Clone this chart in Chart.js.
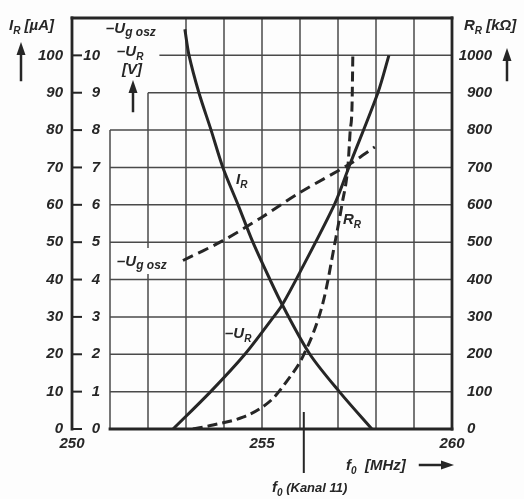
<!DOCTYPE html>
<html><head><meta charset="utf-8">
<script src="https://cdn.jsdelivr.net/npm/chart.js@4/dist/chart.umd.min.js"></script>
<style>html,body{margin:0;padding:0;background:#fdfdfd;}#wrap{width:524px;height:499px;}</style>
</head><body><div id="wrap"><canvas id="c" width="524" height="499"></canvas></div>
<script>
// ---- tick labels ----
const freqTicks = [250, 255, 260];
const currentTicks = [0, 10, 20, 30, 40, 50, 60, 70, 80, 90, 100];
const voltTicks = [0, 1, 2, 3, 4, 5, 6, 7, 8, 9, 10];
const resistTicks = [0, 100, 200, 300, 400, 500, 600, 700, 800, 900, 1000];

// ---- series (f0 in MHz) ----
const irFreq = [252.97, 253.08, 253.34, 253.66, 253.97, 254.37, 254.76, 255.21, 255.53, 256.26, 257.05, 257.89];
const irCurrent = [107, 100, 90, 80, 70, 60, 50, 40, 33.3, 20, 9.8, 0];          // I_R  [µA]

const urFreq = [252.66, 253.63, 254.55, 255.29, 255.53, 256.0, 256.92, 257.32, 258.05, 258.34];
const urVolt = [0, 0.98, 2.0, 2.98, 3.32, 4.2, 6.04, 7.1, 9.0, 10.0];     // -U_R [V]

const ugFreq = [252.92, 253.97, 255.0, 256.0, 257.32, 257.97];
const ugVolt = [4.51, 5.04, 5.67, 6.33, 7.1, 7.55];                  // -U_g osz [V]

const rrFreq = [253.18, 253.71, 254.5, 254.95, 255.29, 255.66, 256.08, 256.61, 256.92, 257.11, 257.26, 257.32, 257.37, 257.39];
const rrRes = [0, 10.6, 31.7, 55, 82, 129, 195, 340, 499, 604, 702, 797, 868, 1000]; // R_R [kΩ]

const kanal11Freq = 256.1;

// ---- styling ----
const INK = '#262626';
const GRIDC = '#4a4a4a';
const FONT = '"Liberation Sans", Arial, sans-serif';
const tickFont = { family: FONT, style: 'italic', weight: 'bold', size: 15 };

const pts = (xs, ys) => xs.map((v, i) => ({ x: v, y: ys[i] }));

function txt(ctx, parts, x, y) {
  let cx = x;
  for (const [t, size, dy] of parts) {
    ctx.font = 'italic bold ' + size + 'px ' + FONT;
    ctx.fillText(t, cx, y + (dy || 0));
    cx += ctx.measureText(t).width;
  }
  return cx;
}
function seg(ctx, x0, y0, x1, y1) { ctx.beginPath(); ctx.moveTo(x0, y0); ctx.lineTo(x1, y1); ctx.stroke(); }
function arrowUp(ctx, x, tip, end) {
  ctx.lineWidth = 2.5; seg(ctx, x, end, x, tip + 8);
  ctx.beginPath(); ctx.moveTo(x, tip); ctx.lineTo(x - 4.5, tip + 13); ctx.lineTo(x + 4.5, tip + 13); ctx.closePath(); ctx.fill();
}
function arrowRight(ctx, start, tip, y) {
  ctx.lineWidth = 2.5; seg(ctx, start, y, tip - 8, y);
  ctx.beginPath(); ctx.moveTo(tip, y); ctx.lineTo(tip - 13, y - 4.5); ctx.lineTo(tip - 13, y + 4.5); ctx.closePath(); ctx.fill();
}

const decor = {
  id: 'decor',
  beforeDraw(chart) {
    const ctx = chart.ctx;
    ctx.save(); ctx.fillStyle = '#fdfdfd'; ctx.fillRect(0, 0, chart.width, chart.height); ctx.restore();
  },
  beforeDatasetsDraw(chart) {
    const ctx = chart.ctx, X = chart.scales.x, Y = chart.scales.y;
    ctx.save();
    ctx.strokeStyle = GRIDC; ctx.lineWidth = 1.5; ctx.lineCap = 'butt';
    for (let f = 251; f <= 259; f++) {
      const top = f === 251 ? 80 : (f === 252 ? 90 : 110);
      seg(ctx, X.getPixelForValue(f), Y.getPixelForValue(top), X.getPixelForValue(f), Y.getPixelForValue(0));
    }
    for (let v = 10; v <= 100; v += 10) {
      const from = v <= 80 ? 251 : (v === 90 ? 252 : 252.3);
      seg(ctx, X.getPixelForValue(from), Y.getPixelForValue(v), X.getPixelForValue(260), Y.getPixelForValue(v));
    }
    // label box for lower -Ug osz label masks the grid
    ctx.fillStyle = '#fdfdfd';
    ctx.fillRect(114, 248, 64, 26);
    ctx.restore();
  },
  afterDatasetsDraw(chart) {
    const ctx = chart.ctx, X = chart.scales.x, Y = chart.scales.y, V = chart.scales.yV;
    ctx.save();
    ctx.strokeStyle = INK; ctx.fillStyle = INK; ctx.lineCap = 'square';
    const x0 = X.getPixelForValue(250), x1 = X.getPixelForValue(260);
    const yb = Y.getPixelForValue(0), yt = Y.getPixelForValue(110);
    ctx.lineWidth = 2.8;
    seg(ctx, x0, yt, x0, yb);
    seg(ctx, x0, yt, x1, yt);
    seg(ctx, x1, yt, x1, yb);
    seg(ctx, X.getPixelForValue(251), yb, x1, yb);
    ctx.lineWidth = 2;
    for (const v of currentTicks) {
      seg(ctx, x0, Y.getPixelForValue(v), x0 + 9, Y.getPixelForValue(v));
    }
    // inner voltage scale labels
    ctx.textAlign = 'right'; ctx.textBaseline = 'middle';
    ctx.font = 'italic bold 15px ' + FONT;
    for (const v of voltTicks) ctx.fillText(String(v), 100, V.getPixelForValue(v));
    ctx.textAlign = 'left'; ctx.textBaseline = 'alphabetic';

    // axis titles
    txt(ctx, [['I', 15], ['R', 10, 4], [' [µA]', 15]], 9, 30);
    arrowUp(ctx, 21, 42, 80);
    txt(ctx, [['R', 15], ['R', 10, 4], [' [kΩ]', 15]], 464, 30);
    arrowUp(ctx, 507, 48, 80);
    txt(ctx, [['–U', 15], ['g osz', 12, 3]], 106, 33);
    txt(ctx, [['–U', 15], ['R', 10, 4]], 117, 56);
    txt(ctx, [['[V]', 15]], 122, 74);
    arrowUp(ctx, 133, 80, 111);

    // curve labels
    txt(ctx, [['I', 15], ['R', 10, 4]], 236, 184);
    txt(ctx, [['R', 15], ['R', 10, 4]], 343, 224);
    txt(ctx, [['–U', 15], ['R', 10, 4]], 225, 338);
    txt(ctx, [['–U', 15], ['g osz', 12, 3]], 117, 266);

    // frequency title
    txt(ctx, [['f', 15], ['0', 10, 4], ['  [MHz]', 15]], 346, 470);
    arrowRight(ctx, 420, 454, 465);
    // channel 11 marker
    const xk = X.getPixelForValue(kanal11Freq);
    ctx.lineWidth = 2; seg(ctx, xk, yb - 16, xk, 472);
    txt(ctx, [['f', 15], ['0', 10, 4], [' (Kanal 11)', 13]], 272, 492);
    ctx.restore();
  }
};

const lineDs = (label, data, axis, dash, mono) => ({
  label, data, yAxisID: axis, borderColor: INK, borderWidth: 3, borderDash: dash,
  pointRadius: 0, fill: false, showLine: true, borderCapStyle: 'butt',
  cubicInterpolationMode: mono ? 'monotone' : 'default', tension: 0.3
});

new Chart(document.getElementById('c'), {
  type: 'scatter',
  data: {
    datasets: [
      lineDs('I_R', pts(irFreq, irCurrent), 'y', [], false),
      lineDs('-U_R', pts(urFreq, urVolt), 'yV', [], false),
      lineDs('-U_g osz', pts(ugFreq, ugVolt), 'yV', [11, 6], false),
      lineDs('R_R', pts(rrFreq, rrRes), 'yR', [10, 5], true)
    ]
  },
  options: {
    responsive: false, animation: false, devicePixelRatio: 1,
    layout: { padding: { left: 0, right: 32, top: 12, bottom: 0 } },
    plugins: { legend: { display: false }, tooltip: { enabled: false } },
    scales: {
      x: {
        type: 'linear', min: 250, max: 260, position: 'bottom',
        grid: { display: false, drawTicks: false }, border: { display: false },
        afterFit: s => { s.height = 70; },
        ticks: { stepSize: 5, padding: 6, color: INK, font: tickFont, maxRotation: 0,
                 callback: v => freqTicks.includes(v) ? String(v) : '' }
      },
      y: {
        type: 'linear', min: 0, max: 110, position: 'left',
        grid: { display: false, drawTicks: false }, border: { display: false },
        afterFit: s => { s.width = 72; },
        ticks: { stepSize: 10, padding: 9, color: INK, font: tickFont,
                 callback: v => currentTicks.includes(v) ? String(v) : '' }
      },
      yR: {
        type: 'linear', min: 0, max: 1100, position: 'right',
        grid: { display: false, drawTicks: false }, border: { display: false },
        afterFit: s => { s.width = 40; },
        ticks: { stepSize: 100, padding: 6, color: INK, font: tickFont, crossAlign: 'far',
                 callback: v => resistTicks.includes(v) ? (v === 0 ? '0\u2007\u2007' : String(v)) : '' }
      },
      yV: { type: 'linear', min: 0, max: 11, display: false }
    }
  },
  plugins: [decor]
});
</script>
</body></html>
